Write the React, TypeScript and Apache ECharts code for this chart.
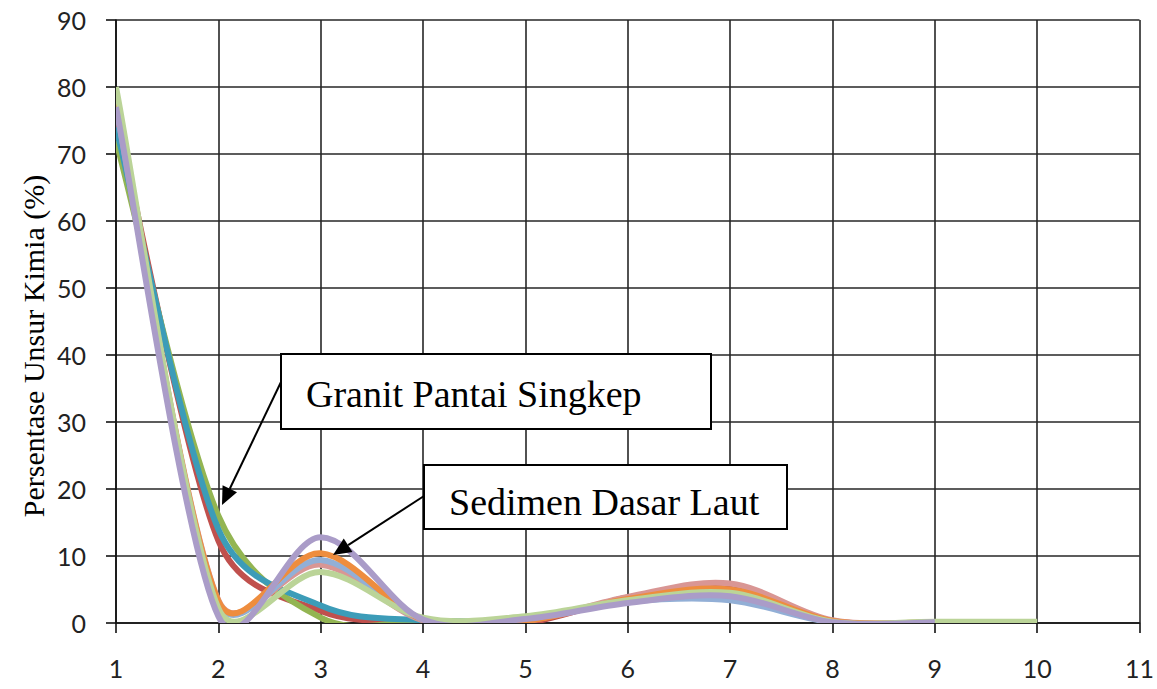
import React, { useEffect, useRef } from "react";
import * as echarts from "echarts";

// ---- data ----
const xValues = [1, 2, 3, 4, 5, 6, 7, 8, 9, 10];
const xTicks = [1, 2, 3, 4, 5, 6, 7, 8, 9, 10, 11];
const yTicks = [0, 10, 20, 30, 40, 50, 60, 70, 80, 90];

// Granit Pantai Singkep
const graniteRed = [76, 12.3, 1.8, 0.2, 0, 3.8, 5.5, 0.3, 0];
const graniteGreen = [72, 16, 0.8, 0.3, 0.5, 3.5, 4.8, 0.2, 0];
const graniteTeal = [74, 14, 2.6, 0.4, 0.6, 3.2, 4.2, 0.1, 0];
// Sedimen Dasar Laut
const sedPink = [78, 3.4, 8.7, 0.4, 0.3, 3.9, 5.9, 0.4, 0.1];
const sedLightBlue = [77, 3.1, 9.4, 0.5, 0.8, 3.2, 3.4, 0.1, 0.1];
const sedOrange = [78, 3.3, 10.4, 0.5, 0.3, 3.6, 5.0, 0.3, 0.1];
const sedLightGreen = [80, 2.2, 7.6, 0.8, 1.0, 3.4, 4.5, 0.2, 0.2, 0.2];
const sedPurple = [77, 1.0, 12.8, 0.5, 0.6, 3.0, 4.0, 0.1, 0.1];

const seriesList = [
  { name: "Granit 1", values: graniteRed, color: "#C0504D" },
  { name: "Granit 2", values: graniteGreen, color: "#93B552" },
  { name: "Granit 3", values: graniteTeal, color: "#3C9CB8" },
  { name: "Sedimen 1", values: sedPink, color: "#D99694" },
  { name: "Sedimen 2", values: sedLightBlue, color: "#92AFD6" },
  { name: "Sedimen 3", values: sedOrange, color: "#EE8D3E" },
  { name: "Sedimen 4", values: sedLightGreen, color: "#BBD498" },
  { name: "Sedimen 5", values: sedPurple, color: "#AA9CC8" },
];

const yTitle = "Persentase Unsur Kimia (%)";
const labelGranite = "Granit Pantai Singkep";
const labelSediment = "Sedimen Dasar Laut";

const serifFont = "'Liberation Serif', 'Times New Roman', serif";

// Excel-like smoothing (Catmull-Rom tangents, capped per segment)
function smoothPath(pts: number[][]): string {
  const n = pts.length;
  if (n < 2) return "";
  const tangent = (i: number) => {
    const prev = pts[Math.max(i - 1, 0)];
    const next = pts[Math.min(i + 1, n - 1)];
    return [(next[0] - prev[0]) / 6, (next[1] - prev[1]) / 6];
  };
  let d = `M${pts[0][0]},${pts[0][1]}`;
  for (let i = 0; i < n - 1; i++) {
    const p1 = pts[i];
    const p2 = pts[i + 1];
    const seg = Math.hypot(p2[0] - p1[0], p2[1] - p1[1]);
    const cap = 0.45 * seg;
    let t1 = tangent(i);
    let t2 = tangent(i + 1);
    const l1 = Math.hypot(t1[0], t1[1]);
    if (l1 > cap) t1 = [(t1[0] * cap) / l1, (t1[1] * cap) / l1];
    const l2 = Math.hypot(t2[0], t2[1]);
    if (l2 > cap) t2 = [(t2[0] * cap) / l2, (t2[1] * cap) / l2];
    d += ` C${p1[0] + t1[0]},${p1[1] + t1[1]} ${p2[0] - t2[0]},${p2[1] - t2[1]} ${p2[0]},${p2[1]}`;
  }
  return d;
}

function arrow(tail: number[], tip: number[]) {
  const dx = tip[0] - tail[0];
  const dy = tip[1] - tail[1];
  const len = Math.hypot(dx, dy);
  const ux = dx / len;
  const uy = dy / len;
  const hl = 18;
  const hw = 8;
  const bx = tip[0] - ux * hl;
  const by = tip[1] - uy * hl;
  return [
    {
      type: "line",
      z: 100,
      shape: { x1: tail[0], y1: tail[1], x2: bx, y2: by },
      style: { stroke: "#000", lineWidth: 2 },
    },
    {
      type: "polygon",
      z: 100,
      shape: {
        points: [
          [tip[0], tip[1]],
          [bx - uy * hw, by + ux * hw],
          [bx + uy * hw, by - ux * hw],
        ],
      },
      style: { fill: "#000" },
    },
  ];
}

export default function App() {
  const ref = useRef<HTMLDivElement>(null);
  useEffect(() => {
    document.body.style.margin = "0";
    if (!ref.current) return;
    const chart = echarts.init(ref.current, undefined, { renderer: "svg" });
    const axisLabelStyle = {
      fontFamily: "Lato",
      fontSize: 25,
      color: "#222",
    };
    const option: any = {
      animation: false,
      backgroundColor: "#fff",
      grid: { left: 116, top: 20, right: 17, bottom: 66, containLabel: false },
      xAxis: {
        type: "value",
        min: xTicks[0],
        max: xTicks[xTicks.length - 1],
        interval: 1,
        axisLine: { show: true, lineStyle: { color: "#111", width: 1.6 } },
        axisTick: { show: true, inside: false, length: 10, lineStyle: { color: "#111", width: 1.6 } },
        axisLabel: { ...axisLabelStyle, margin: 32 },
        splitLine: { show: true, lineStyle: { color: "#262626", width: 1.6 } },
      },
      yAxis: {
        type: "value",
        min: yTicks[0],
        max: yTicks[yTicks.length - 1],
        interval: 10,
        axisLine: { show: true, lineStyle: { color: "#111", width: 1.6 } },
        axisTick: { show: true, inside: false, length: 10, lineStyle: { color: "#111", width: 1.6 } },
        axisLabel: { ...axisLabelStyle, margin: 30 },
        splitLine: { show: true, lineStyle: { color: "#262626", width: 1.6 } },
      },
      series: seriesList.map((s) => ({
        type: "custom",
        name: s.name,
        clip: true,
        dimensions: ["x", "y"],
        encode: { x: 0, y: 1 },
        data: s.values.map((v, i) => [xValues[i], v]),
        renderItem: (params: any, api: any) => {
          if (params.dataIndexInside !== 0) return null;
          const n = params.dataInsideLength;
          const pts: number[][] = [];
          for (let i = 0; i < n; i++) {
            pts.push(api.coord([api.value(0, i), api.value(1, i)]));
          }
          const cs = params.coordSys;
          return {
            type: "path",
            shape: { pathData: smoothPath(pts) },
            style: { fill: "none", stroke: s.color, lineWidth: 6, lineJoin: "round" },
            clipPath: { type: "rect", shape: { x: cs.x, y: cs.y, width: cs.width, height: cs.height } },
            silent: true,
          };
        },
      })),
      graphic: [
        {
          type: "text",
          z: 100,
          x: 33,
          y: 346,
          rotation: Math.PI / 2,
          style: {
            text: yTitle,
            fontFamily: serifFont,
            fontSize: 30,
            fill: "#000",
            align: "center",
            verticalAlign: "middle",
          },
        },
        {
          type: "rect",
          z: 100,
          shape: { x: 281, y: 354, width: 430, height: 75 },
          style: { fill: "#fff", stroke: "#000", lineWidth: 2 },
        },
        {
          type: "text",
          z: 101,
          x: 306,
          y: 393.5,
          style: {
            text: labelGranite,
            fontFamily: serifFont,
            fontSize: 38,
            fill: "#000",
            align: "left",
            verticalAlign: "middle",
          },
        },
        {
          type: "rect",
          z: 100,
          shape: { x: 424, y: 465, width: 363, height: 64 },
          style: { fill: "#fff", stroke: "#000", lineWidth: 2 },
        },
        {
          type: "text",
          z: 101,
          x: 449,
          y: 501.5,
          style: {
            text: labelSediment,
            fontFamily: serifFont,
            fontSize: 38,
            fill: "#000",
            align: "left",
            verticalAlign: "middle",
          },
        },
        ...arrow([281, 382], [222, 505]),
        ...arrow([424, 496], [333, 555]),
      ],
    };
    chart.setOption(option);
    return () => chart.dispose();
  }, []);
  return (
    <div
      ref={ref}
      style={{ width: 1157, height: 689, position: "fixed", left: 0, top: 0, background: "#fff" }}
    />
  );
}
